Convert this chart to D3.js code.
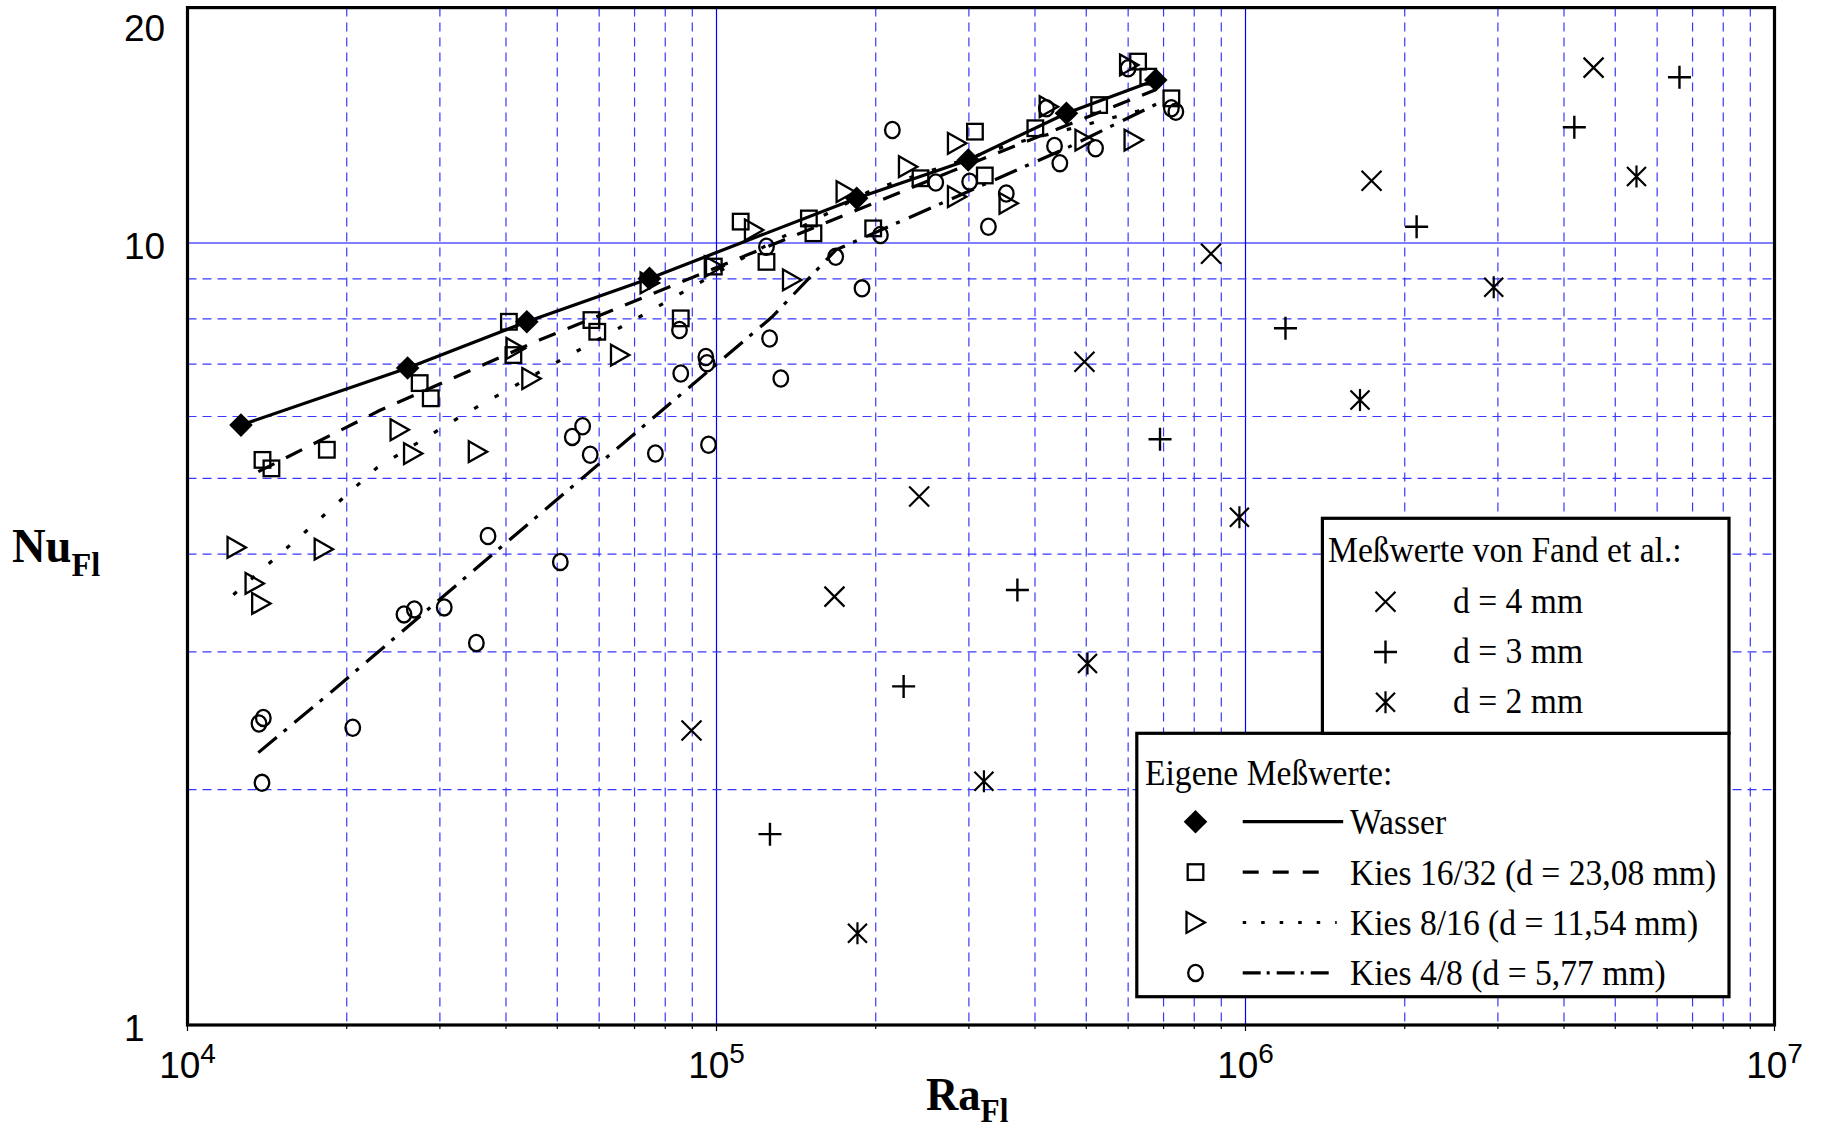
<!DOCTYPE html>
<html>
<head>
<meta charset="utf-8">
<script src="https://cdn.jsdelivr.net/npm/d3@7"></script>
<style>
  body { margin: 0; background: #fff; }
  svg { display: block; }
</style>
</head>
<body>
<svg id="chart" width="1822" height="1132"></svg>
<script>
// ---- Measured values: [Ra_Fl, Nu_Fl] ----
const wasser = [
  [12620, 5.85], [26070, 6.92], [43800, 7.93], [74700, 9.01],
  [184100, 11.41], [299200, 12.77], [458700, 14.65], [676700, 16.16]
];
const kies1632 = [
  [13860, 5.28], [14410, 5.15], [18340, 5.44], [27470, 6.62], [28830, 6.33],
  [40510, 7.93], [41310, 7.19], [58020, 7.97], [59510, 7.70], [85590, 8.01],
  [98830, 9.33], [111100, 10.65], [124300, 9.46], [149500, 10.75], [152500, 10.29],
  [197800, 10.44], [243000, 12.10], [308000, 13.88], [321500, 12.20], [400600, 14.02],
  [528800, 15.01], [626500, 17.06], [654900, 16.32], [724200, 15.31]
];
const kies816 = [
  [12380, 4.08], [13390, 3.67], [13780, 3.46], [18090, 4.06], [25170, 5.77],
  [26690, 5.38], [35380, 5.41], [41710, 7.33], [44660, 6.71], [65700, 7.19],
  [74730, 8.89], [98830, 9.33], [117700, 10.39], [138900, 8.97], [175400, 11.63],
  [230100, 12.52], [284800, 13.41], [284800, 11.46], [356500, 11.24], [424600, 14.94],
  [496100, 13.54], [614300, 13.54], [602400, 16.89]
];
const kies48 = [
  [13910, 2.47], [13650, 2.43], [13830, 2.04], [20530, 2.40], [25660, 3.35],
  [26840, 3.40], [30570, 3.42], [35160, 3.08], [36990, 4.22], [50670, 3.91],
  [53380, 5.65], [55840, 5.83], [57710, 5.36], [76650, 5.38], [85120, 7.74],
  [85590, 6.81], [95460, 7.15], [95950, 7.02], [96580, 5.52], [124300, 9.89],
  [126000, 7.55], [132300, 6.71], [168000, 9.60], [188400, 8.75], [204100, 10.24],
  [215000, 13.95], [259700, 11.95], [301000, 11.98], [326600, 10.49], [353000, 11.57],
  [420400, 14.87], [435500, 13.31], [445700, 12.65], [520600, 13.22], [600000, 16.73],
  [724200, 14.87], [738500, 14.72]
];

// Trend curves through the gravel series
const kies1632Fit = [[13610, 5.10], [23120, 6.11], [46390, 7.52], [114100, 9.65], [276400, 12.33], [674400, 15.69]];
const kies816Fit = [[12210, 3.55], [16750, 4.28], [22810, 5.16], [33900, 6.08], [49520, 7.02], [72610, 8.09], [114700, 9.65], [196800, 11.69], [366700, 13.42], [671500, 14.93]];
const kies48Fit = [[13610, 2.23], [18860, 2.68], [41600, 4.23], [127300, 8.04], [168200, 9.80], [264600, 11.22], [463800, 13.27], [683300, 15.09]];

// Fand et al. reference data
const fandD4 = [[89690, 2.38], [167100, 3.53], [241600, 4.74], [496100, 7.05], [860600, 9.69], [1731000, 12.01], [4550000, 16.76]];
const fandD3 = [[126200, 1.754], [225800, 2.71], [370500, 3.60], [689300, 5.61], [1190000, 7.78], [2106000, 10.49], [4184000, 14.06], [6612000, 16.29]];
const fandD2 = [[184700, 1.31], [320300, 2.05], [502700, 2.90], [973800, 4.46], [1646000, 6.30], [2946000, 8.78], [5484000, 12.16]];

// Axis labels
const xTickExponents = [4, 5, 6, 7];
const yTickLabels = [1, 10, 20];

// Legend entries
const fandLegend = [
  { marker: 'cross', label: 'd = 4 mm' },
  { marker: 'plus', label: 'd = 3 mm' },
  { marker: 'star', label: 'd = 2 mm' }
];
const ownLegend = [
  { marker: 'diamond', line: 'solid', label: 'Wasser' },
  { marker: 'square', line: 'dashed', label: 'Kies 16/32 (d = 23,08 mm)' },
  { marker: 'triangle', line: 'dotted', label: 'Kies 8/16 (d = 11,54 mm)' },
  { marker: 'circle', line: 'dashdot', label: 'Kies 4/8 (d = 5,77 mm)' }
];

// ---- Layout ----
const W = 1822, H = 1132;
const plot = { left: 187.5, right: 1774.5, top: 7.6, bottom: 1025 };
const x = d3.scaleLog().domain([1e4, 1e7]).range([plot.left, plot.right]);
const y = d3.scaleLog().domain([1, 20]).range([plot.bottom, plot.top]);

const svg = d3.select('#chart');
svg.append('rect').attr('width', W).attr('height', H).attr('fill', '#fff');

const serif = '"Liberation Serif", "Times New Roman", serif';
const sans = '"Liberation Sans", Arial, sans-serif';

// Slightly condense a text element horizontally (narrow typeface look)
function condense(sel, factor) {
  sel.each(function () {
    const len = this.getComputedTextLength();
    d3.select(this).attr('textLength', len * factor).attr('lengthAdjust', 'spacingAndGlyphs');
  });
}

// ---- Grid ----
const grid = svg.append('g');
const xTicks = x.ticks();
const yTicks = y.ticks().filter(v => v < 10 && v > 1);
const isDecade = v => Math.abs(Math.log10(v) - Math.round(Math.log10(v))) < 1e-9;

xTicks.filter(v => v > 1e4 && v < 1e7).forEach(v => {
  const major = isDecade(v);
  grid.append('line')
    .attr('x1', x(v)).attr('x2', x(v))
    .attr('y1', plot.top).attr('y2', plot.bottom)
    .attr('stroke', major ? '#0000ff' : '#3838ff')
    .attr('stroke-width', 1.2)
    .attr('stroke-dasharray', major ? null : '9,6');
});
yTicks.forEach(v => {
  grid.append('line')
    .attr('x1', plot.left).attr('x2', plot.right)
    .attr('y1', y(v)).attr('y2', y(v))
    .attr('stroke', '#3838ff').attr('stroke-width', 1.2)
    .attr('stroke-dasharray', '9,6');
});
grid.append('line')
  .attr('x1', plot.left).attr('x2', plot.right)
  .attr('y1', y(10)).attr('y2', y(10))
  .attr('stroke', '#0000ff').attr('stroke-width', 1.2);

// ---- Curves ----
const lineGen = d3.line().x(d => x(d[0])).y(d => y(d[1]));
const lineStyles = {
  solid: null,
  dashed: '18,13',
  dotted: '4.5,19',
  dashdot: '24,9,4,10'
};
const curves = svg.append('g').attr('fill', 'none').attr('stroke', '#000').attr('stroke-width', 3.2);
curves.append('path').attr('d', lineGen(wasser));
curves.append('path').attr('d', lineGen(kies1632Fit)).attr('stroke-dasharray', lineStyles.dashed);
curves.append('path').attr('d', lineGen(kies816Fit)).attr('stroke-dasharray', lineStyles.dotted);
curves.append('path').attr('d', lineGen(kies48Fit)).attr('stroke-dasharray', lineStyles.dashdot);

// ---- Markers ----
function drawMarker(g, type) {
  const sw = 2.3;
  switch (type) {
    case 'diamond':
      g.append('path').attr('d', 'M0,-11.8L11.8,0L0,11.8L-11.8,0Z').attr('fill', '#000');
      break;
    case 'square':
      g.append('rect').attr('x', -7.8).attr('y', -7.8).attr('width', 15.6).attr('height', 15.6)
        .attr('fill', 'none').attr('stroke', '#000').attr('stroke-width', sw);
      break;
    case 'triangle':
      g.append('path').attr('d', 'M-9,-10.4L9.4,0L-9,10.4Z')
        .attr('fill', 'none').attr('stroke', '#000').attr('stroke-width', sw);
      break;
    case 'circle':
      g.append('ellipse').attr('rx', 7.3).attr('ry', 8.1)
        .attr('fill', 'none').attr('stroke', '#000').attr('stroke-width', sw);
      break;
    case 'cross':
      g.append('path').attr('d', 'M-10,-10L10,10M-10,10L10,-10')
        .attr('fill', 'none').attr('stroke', '#000').attr('stroke-width', 2.2);
      break;
    case 'plus':
      g.append('path').attr('d', 'M-11.5,0H11.5M0,-11.5V11.5')
        .attr('fill', 'none').attr('stroke', '#000').attr('stroke-width', 2.4);
      break;
    case 'star':
      g.append('path').attr('d', 'M0,-11V11M-9.5,-9.5L9.5,9.5M-9.5,9.5L9.5,-9.5')
        .attr('fill', 'none').attr('stroke', '#000').attr('stroke-width', 2.2);
      break;
  }
}

function plotSeries(data, type) {
  const g = svg.append('g');
  data.forEach(d => {
    const m = g.append('g').attr('transform', `translate(${x(d[0])},${y(d[1])})`);
    drawMarker(m, type);
  });
}
plotSeries(kies48, 'circle');
plotSeries(kies816, 'triangle');
plotSeries(kies1632, 'square');
plotSeries(wasser, 'diamond');
plotSeries(fandD4, 'cross');
plotSeries(fandD3, 'plus');
plotSeries(fandD2, 'star');

// ---- Frame and ticks ----
svg.append('rect')
  .attr('x', plot.left).attr('y', plot.top)
  .attr('width', plot.right - plot.left).attr('height', plot.bottom - plot.top)
  .attr('fill', 'none').attr('stroke', '#000').attr('stroke-width', 3.2);

const ticks = svg.append('g').attr('stroke', '#000').attr('stroke-width', 1.2);
xTicks.forEach(v => {
  ticks.append('line').attr('x1', x(v)).attr('x2', x(v))
    .attr('y1', plot.bottom).attr('y2', plot.bottom + (isDecade(v) ? 6 : 4));
});

// x tick labels: 10^n
const xLab = svg.append('g').attr('font-family', sans).attr('font-size', 37).attr('fill', '#000');
xTickExponents.forEach(e => {
  const t = xLab.append('text')
    .attr('x', x(Math.pow(10, e))).attr('y', 1078)
    .attr('text-anchor', 'middle');
  t.append('tspan').text('10');
  t.append('tspan').attr('dy', -15).attr('font-size', 28).text(String(e));
});

// y tick labels
const yLab = svg.append('g').attr('font-family', sans).attr('font-size', 37).attr('fill', '#000');
yTickLabels.forEach(v => {
  yLab.append('text')
    .attr('x', 124)
    .attr('y', Math.max(y(v), plot.top + 18) + 15.5)
    .text(String(v));
});

// axis titles
const yTitle = svg.append('text')
  .attr('x', 12).attr('y', 562)
  .attr('font-family', serif).attr('font-weight', 'bold').attr('font-size', 49);
yTitle.append('tspan').text('Nu');
yTitle.append('tspan').attr('dy', 14).attr('font-size', 34).text('Fl');
condense(yTitle, 0.95);

const xTitle = svg.append('text')
  .attr('x', 926).attr('y', 1110)
  .attr('font-family', serif).attr('font-weight', 'bold').attr('font-size', 47);
xTitle.append('tspan').text('Ra');
xTitle.append('tspan').attr('dy', 12).attr('font-size', 33).text('Fl');
condense(xTitle, 0.95);

// ---- Legends ----
const legend = svg.append('g').attr('font-family', serif).attr('font-size', 35).attr('fill', '#000');

// lower box (own measurements) first so the upper box border sits on top
legend.append('rect')
  .attr('x', 1136.8).attr('y', 733.3).attr('width', 1729 - 1136.8).attr('height', 996.7 - 733.3)
  .attr('fill', '#fff').attr('stroke', '#000').attr('stroke-width', 3.2);
legend.append('rect')
  .attr('x', 1322.4).attr('y', 518.3).attr('width', 1729 - 1322.4).attr('height', 733.3 - 518.3)
  .attr('fill', '#fff').attr('stroke', '#000').attr('stroke-width', 3.2);

const legendTexts = [];
legendTexts.push(legend.append('text').attr('x', 1328).attr('y', 562).text('Meßwerte von Fand et al.:'));
fandLegend.forEach((item, i) => {
  const cy = 601.7 + i * 50.3;
  drawMarker(legend.append('g').attr('transform', `translate(1385.5,${cy})`), item.marker);
  legendTexts.push(legend.append('text').attr('x', 1453).attr('y', cy + 11).text(item.label));
});

legendTexts.push(legend.append('text').attr('x', 1145).attr('y', 785).text('Eigene Meßwerte:'));
const legendDash = { solid: null, dashed: '16,14', dotted: '3.5,15', dashdot: '18,6,3,7' };
const legendLineLen = { solid: 100.5, dashed: 76, dotted: 94, dashdot: 92 };
ownLegend.forEach((item, i) => {
  const cy = 821.7 + i * 50.4;
  drawMarker(legend.append('g').attr('transform', `translate(1195.5,${cy})`), item.marker);
  legend.append('line')
    .attr('x1', 1242.7).attr('x2', 1242.7 + legendLineLen[item.line])
    .attr('y1', cy).attr('y2', cy)
    .attr('stroke', '#000').attr('stroke-width', 3.2)
    .attr('stroke-dasharray', legendDash[item.line]);
  legendTexts.push(legend.append('text').attr('x', 1350).attr('y', cy + 12.5).text(item.label));
});
legendTexts.forEach(t => condense(t, 0.96));
</script>
</body>
</html>
